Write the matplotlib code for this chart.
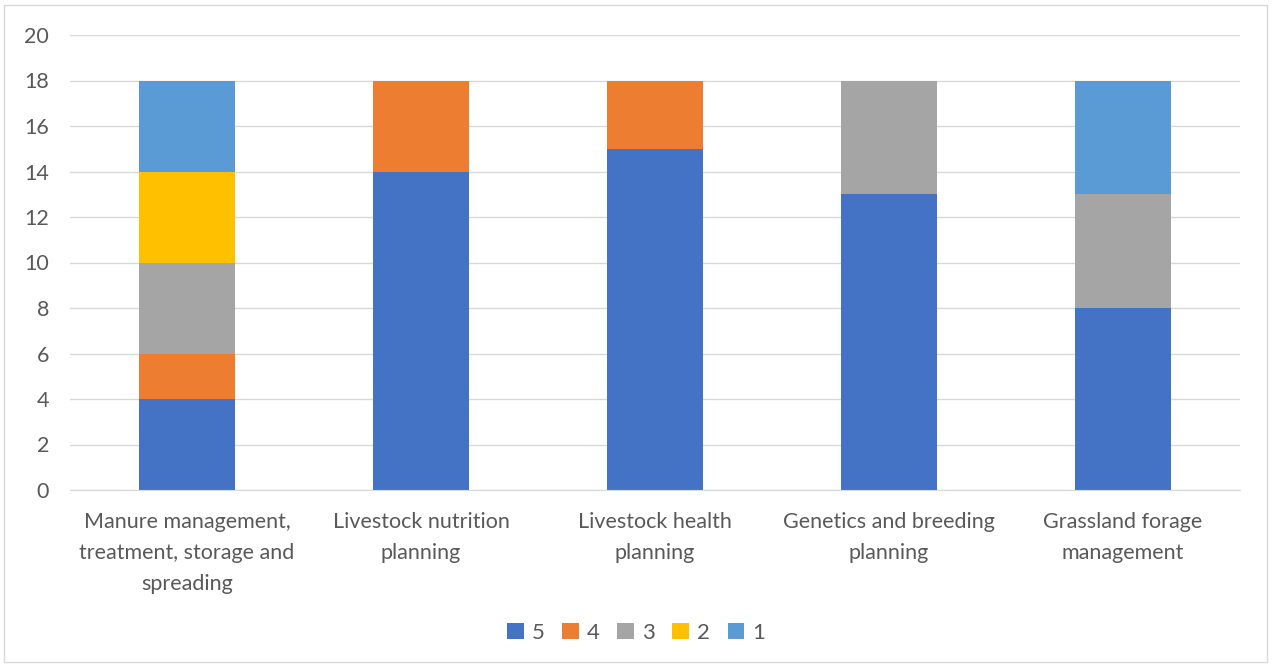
import matplotlib.pyplot as plt
from matplotlib.patches import Rectangle
import numpy as np

categories = [
    "Manure management,\ntreatment, storage and\nspreading",
    "Livestock nutrition\nplanning",
    "Livestock health\nplanning",
    "Genetics and breeding\nplanning",
    "Grassland forage\nmanagement",
]
series_labels = ["5", "4", "3", "2", "1"]
score_5 = [4, 14, 15, 13, 8]
score_4 = [2, 4, 3, 0, 0]
score_3 = [4, 0, 0, 5, 5]
score_2 = [4, 0, 0, 0, 0]
score_1 = [4, 0, 0, 0, 5]
colors = ["#4472C4", "#ED7D31", "#A5A5A5", "#FFC000", "#5B9BD5"]

plt.rcParams['font.family'] = ['Lato', 'DejaVu Sans']
text_color = "#595959"
fs = 15.5

fig = plt.figure(figsize=(12.72, 6.67), dpi=100)
ax = fig.add_axes([70 / 1272, 1 - 490 / 667, 1170 / 1272, 455 / 667])

x = np.arange(len(categories))
bottom = np.zeros(len(categories))
for label, vals, c in zip(series_labels, [score_5, score_4, score_3, score_2, score_1], colors):
    ax.bar(x, vals, width=0.406, bottom=bottom, color=c, label=label, zorder=3)
    bottom += np.array(vals)

ax.set_xlim(-0.5, len(categories) - 0.5)
ax.set_ylim(0, 20)
ax.set_yticks(range(0, 21, 2))
ax.set_xticks(x)
ax.set_xticklabels(categories, fontsize=fs, color=text_color, linespacing=1.68)
ax.tick_params(axis='y', labelsize=fs, labelcolor=text_color, length=0, pad=15)
ax.tick_params(axis='x', length=0, pad=16)
ax.grid(axis='y', color="#D9D9D9", linewidth=1, zorder=0)
for s in ['top', 'right', 'left']:
    ax.spines[s].set_visible(False)
ax.spines['bottom'].set_color("#D9D9D9")
ax.spines['bottom'].set_zorder(4)

leg = fig.legend(loc='center', bbox_to_anchor=(0.5, 1 - 633 / 667), ncol=5, frameon=False,
                 fontsize=16, handlelength=0.75, handleheight=0.75, handletextpad=0.35,
                 columnspacing=0.8)
for t in leg.get_texts():
    t.set_color(text_color)

# light outer border around the chart
fig.patches.append(Rectangle((4 / 1272, 1 - 662 / 667), 1263 / 1272, 657 / 667,
                             transform=fig.transFigure, fill=False,
                             edgecolor="#D9D9D9", linewidth=1))

fig.savefig("out.png", dpi=100)
